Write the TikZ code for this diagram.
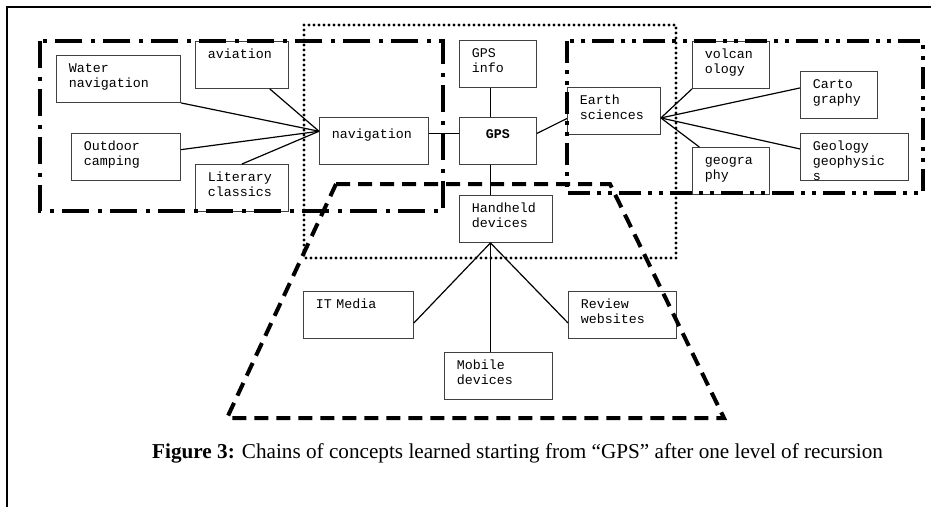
\documentclass[tikz,border=0pt]{standalone}
\usepackage{xcolor}
\usepackage{fontspec}
\setmainfont{Liberation Serif}
\newfontfamily\courierFont[WordSpace={1,0,0}]{Liberation Mono}
\usepackage{tikz}
\usetikzlibrary{calc}
\definecolor{boxColor}{gray}{0.25}
\definecolor{lineColor}{gray}{0}

\begin{document}
\begin{tikzpicture}[x=1pt,y=-1pt,
	conceptBox/.style={draw=boxColor,line width=0.9pt,rectangle,anchor=north west,font=\courierFont\fontsize{13.3}{15}\selectfont,align=left,inner xsep=12.5pt,inner ysep=0pt,text width=#1pt-25pt,minimum width=#1pt,text height=17pt,text depth=30pt},
	midBox/.style={text height=21pt,text depth=26pt},
	link/.style={draw=lineColor,line width=1.2pt},
	dashDotRegion/.style={line width=4pt,dash pattern=on 27pt off 8.5pt on 4pt off 8.5pt},
	dashDotDotRegion/.style={line width=4pt,dash pattern=on 22pt off 7pt on 4pt off 7pt on 4pt off 7pt},
	dottedRegion/.style={line width=3.4pt,line cap=round,dash pattern=on 0pt off 5pt},
	dashedRegion/.style={line width=4pt,dash pattern=on 14pt off 8pt}]
\useasboundingbox (0,0) rectangle (931,507);
% frame
\draw[line width=2pt] (7,507) -- (7,7) -- (931,7);
%
% navigation side
\node[conceptBox=124] (water) at (56,55) {Water\\navigation};
\node[conceptBox=93] (aviation) at (195,41) {aviation};
\node[conceptBox=109] (outdoor) at (71,133) {Outdoor\\camping};
\node[conceptBox=93] (literary) at (195,164) {Literary\\classics};
\node[conceptBox=109,midBox] (navigation) at (319,117) {navigation};
%
% GPS column
\node[conceptBox=77] (gpsInfo) at (459,40) {GPS\\info};
\node[conceptBox=77,midBox,align=center,font=\courierFont\bfseries\fontsize{13.3}{15}\selectfont] (gps) at (459,117) {GPS};
\node[conceptBox=93] (handheld) at (459,195) {Handheld\\devices};
%
% earth sciences side
\node[conceptBox=93] (earth) at (567,87) {Earth\\sciences};
\node[conceptBox=77] (volcano) at (692,41) {volcan\\ology};
\node[conceptBox=77] (carto) at (800,71) {Carto\\graphy};
\node[conceptBox=108] (geology) at (800,133) {Geology\\geophysic\\s};
\node[conceptBox=77] (geography) at (692,147) {geogra\\phy};
%
% devices
\node[conceptBox=110] (itMedia) at (303,291) {IT Media};
\node[conceptBox=108] (review) at (568,291) {Review\\websites};
\node[conceptBox=108] (mobile) at (444,352) {Mobile\\devices};
%
\foreach \src in {water.south east,aviation,outdoor,literary.north} {
	\path[link] (\src) -- (navigation.170);
}
\path[link] ([yshift=7.5pt]navigation.east) -- ([yshift=7.5pt]gps.west);
\path[link] ([xshift=-7.5pt]gpsInfo.south) -- ([xshift=-7.5pt]gps.north);
\path[link] ([xshift=-7.5pt]gps.south) -- ([xshift=-15.5pt]handheld.north);
\path[link] ([yshift=7.5pt]gps.east) -- ([yshift=-7.5pt]earth.west);
%
\path[link] ([yshift=-7pt]earth.east) -- (volcano.south west);
\path[link] ([yshift=-7pt]earth.east) -- ([yshift=7pt]carto.west);
\path[link] ([yshift=-7pt]earth.east) -- ([yshift=8pt]geology.west);
\path[link] ([yshift=-7pt]earth.east) -- (geography);
%
\path[link] ([xshift=-15.5pt]handheld.south) -- ([yshift=-8pt]itMedia.east);
\path[link] ([xshift=-15.5pt]handheld.south) -- ([xshift=-8pt]mobile.north);
\path[link] ([xshift=-15.5pt]handheld.south) -- ([yshift=-8pt]review.west);
%
% regions
\draw[dashDotRegion] (40,41) rectangle (443,211);
\draw[dashDotDotRegion] (567,41) rectangle (923,193);
\draw[dottedRegion] (304,25) rectangle (676,258);
\draw[dashedRegion] (336,184) -- (610,184) -- (724,418) -- (227,418) -- cycle;
%
\node[anchor=base west,inner sep=0pt,font=\fontsize{21.2}{24}\selectfont] (caption) at (152,458) {\textbf{Figure 3:} Chains of concepts learned starting from “GPS” after one level of recursion};
\end{tikzpicture}
\end{document}
